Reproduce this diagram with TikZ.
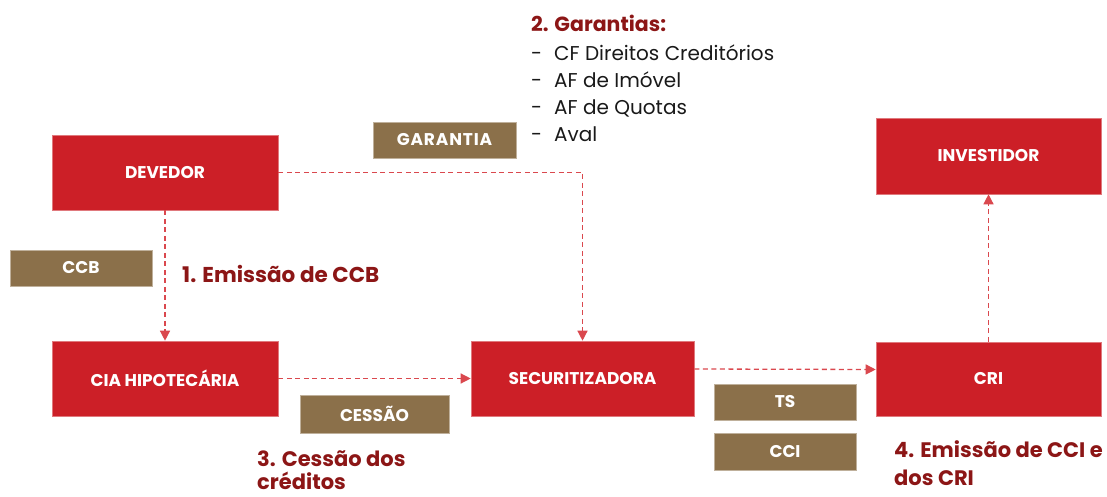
\documentclass[tikz,border=0pt]{standalone}
\usepackage{fontspec}
\setmainfont{Poppins}
\usetikzlibrary{arrows.meta}
\definecolor{boxred}{RGB}{204,31,39}
\definecolor{boxbrown}{RGB}{139,112,74}
\definecolor{lblred}{RGB}{140,22,22}
\definecolor{lnred}{RGB}{218,72,78}
\definecolor{txtdark}{RGB}{25,25,25}
\begin{document}
\begin{tikzpicture}[x=1pt,y=-1pt,
  redbox/.style={fill=boxred, draw=boxred!60!white, line width=0.6pt, text=white,
    font=\bfseries\fontsize{17}{20}\selectfont, inner sep=0pt},
  brownbox/.style={fill=boxbrown, draw=boxbrown!55!white, line width=0.6pt, text=white,
    font=\bfseries\fontsize{17}{20}\selectfont, inner sep=0pt, minimum width=142pt, minimum height=36pt},
  flow/.style={draw=lnred, line width=1.3pt, dash pattern=on 5pt off 3.5pt,
    -{Triangle[length=10pt,width=10pt]}},
  steplbl/.style={text=lblred, font=\bfseries\fontsize{21}{27}\selectfont, anchor=base west, inner sep=0pt},
  listtxt/.style={text=txtdark, font=\fontsize{20}{24}\selectfont, anchor=base west, inner sep=0pt}]
\useasboundingbox (0,0) rectangle (1107,497);

% main boxes
\node[redbox, minimum width=226pt, minimum height=75pt] (dev) at (165,172.5) {DEVEDOR};
\node[redbox, minimum width=226pt, minimum height=75pt] (cia) at (165,378.5) {CIA HIPOTECÁRIA};
\node[redbox, minimum width=223pt, minimum height=75pt] (sec) at (582.5,378.5) {SECURITIZADORA};
\node[redbox, minimum width=225pt, minimum height=74pt] (cri) at (988.5,379) {CRI};
\node[redbox, minimum width=225pt, minimum height=76pt] (inv) at (988.5,156) {INVESTIDOR};

% brown tags
\node[brownbox, minimum width=143pt] (gar) at (444.5,140) {\addfontfeatures{LetterSpace=5}GARANTIA};
\node[brownbox] (ccb) at (81,268) {CCB};
\node[brownbox, minimum width=149pt, minimum height=38pt] (ces) at (374.5,414) {CESSÃO};
\node[brownbox] (ts) at (785,402) {TS};
\node[brownbox, minimum height=37pt] (cci) at (785,451.5) {CCI};

% connectors
\draw[flow] (dev.south) -- (cia.north);
\draw[flow] (dev.east) -| (sec.north);
\draw[flow] (cia.east) -- (sec.west);
\draw[flow] ([yshift=9.5pt]sec.east) -- ([yshift=9.5pt]cri.west);
\draw[flow] (cri.north) -- (inv.south);

% step labels
\node[steplbl, font=\bfseries\fontsize{21.5}{27}\selectfont] (l1) at (182,282) {1. Emissão de CCB};
\node[steplbl, font=\bfseries\fontsize{20.5}{24}\selectfont] (l2) at (531,32) {2. Garantias:};
\node[steplbl] (l3a) at (257,466) {3. Cessão dos};
\node[steplbl] (l3b) at (257,489) {créditos};
\node[steplbl] (l4a) at (894,457) {4. Emissão de CCI e};
\node[steplbl] (l4b) at (894,485) {dos CRI};

% guarantee list
\node[listtxt] (d1) at (531,61) {-};
\node[listtxt] (g1) at (554,61) {CF Direitos Creditórios};
\node[listtxt] (d2) at (531,88) {-};
\node[listtxt] (g2) at (554,88) {AF de Imóvel};
\node[listtxt] (d3) at (531,115) {-};
\node[listtxt] (g3) at (554,115) {AF de Quotas};
\node[listtxt] (d4) at (531,142) {-};
\node[listtxt] (g4) at (554,142) {Aval};
\end{tikzpicture}
\end{document}
